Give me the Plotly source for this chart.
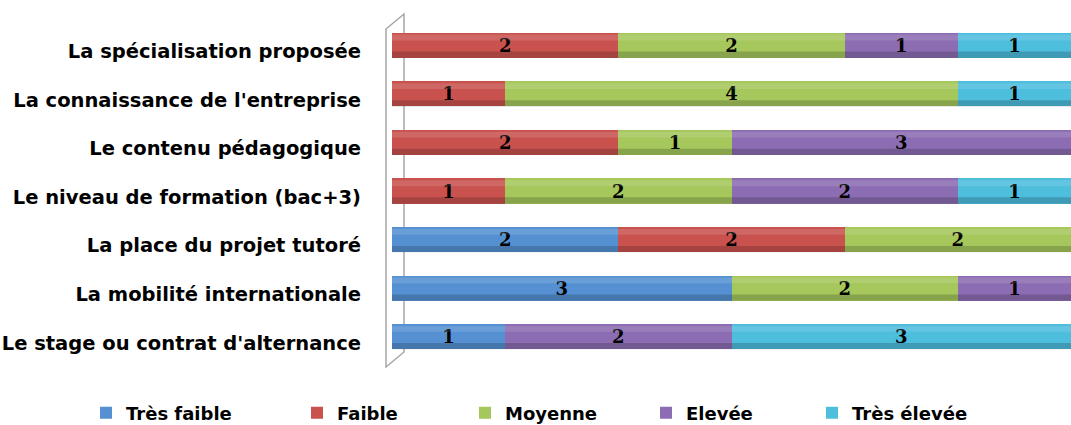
import plotly.graph_objects as go

categories = [
    "Le stage ou contrat d'alternance",
    "La mobilité internationale",
    "La place du projet tutoré",
    "Le niveau de formation (bac+3)",
    "Le contenu pédagogique",
    "La connaissance de l'entreprise",
    "La spécialisation proposée",
]
series_names = ["Très faible", "Faible", "Moyenne", "Elevée", "Très élevée"]
tres_faible = [1, 3, 2, 0, 0, 0, 0]
faible = [0, 0, 2, 1, 2, 1, 2]
moyenne = [0, 2, 2, 2, 1, 4, 2]
elevee = [2, 1, 0, 2, 3, 0, 1]
tres_elevee = [3, 0, 0, 1, 0, 1, 1]
series_values = [tres_faible, faible, moyenne, elevee, tres_elevee]
colors = ["#5591D2", "#C9524F", "#A5C75C", "#8C6DB3", "#4EBEDD"]

W, H = 1071, 425
L, R, T, B = 392, 0, 21, 64
pw, ph = W - L - R, H - T - B

def px_x(px):
    return (px - L) / pw

def px_y(py):
    return (H - B - py) / ph

legend_px = [86, 297, 465, 646, 812]
legend_names = ["legend", "legend2", "legend3", "legend4", "legend5"]

fig = go.Figure()
for i, (name, vals, col) in enumerate(zip(series_names, series_values, colors)):
    fig.add_trace(go.Bar(
        y=categories, x=vals, name=name, orientation="h",
        marker=dict(color=col, line=dict(width=0)),
        text=[str(v) if v else "" for v in vals],
        textposition="inside", insidetextanchor="middle",
        textangle=0, constraintext="none",
        textfont=dict(family="DejaVu Serif", size=18, color="black", weight="bold"),
        legend=legend_names[i], showlegend=True,
    ))

layout_legends = {}
for i, ln in enumerate(legend_names):
    layout_legends[ln] = dict(
        x=px_x(legend_px[i]), y=px_y(413), xanchor="left", yanchor="middle",
        orientation="h", bgcolor="rgba(0,0,0,0)", visible=True,
        font=dict(family="DejaVu Sans", size=18, color="black", weight="bold"),
    )

wall = (f"M {px_x(386)},{px_y(29)} L {px_x(404)},{px_y(14)} "
        f"L {px_x(404)},{px_y(352)} L {px_x(386)},{px_y(367)} Z")

shapes = [dict(type="path", xref="paper", yref="paper", path=wall,
               line=dict(color="#A6A6A6", width=1.5), fillcolor="white", layer="below")]
# cylinder shading over each bar
for i, cat in enumerate(categories):
    total = sum(v[i] for v in series_values)
    shapes.append(dict(type="rect", xref="x", yref="y", x0=0, x1=total,
                       y0=i - 0.26, y1=i - 0.13, fillcolor="rgba(0,0,0,0.18)",
                       line=dict(width=0), layer="above"))
    shapes.append(dict(type="rect", xref="x", yref="y", x0=0, x1=total,
                       y0=i + 0.10, y1=i + 0.22, fillcolor="rgba(255,255,255,0.12)",
                       line=dict(width=0), layer="above"))

fig.update_layout(
    width=W, height=H,
    margin=dict(l=L, r=R, t=T, b=B, autoexpand=False),
    barmode="stack", bargap=0.48,
    plot_bgcolor="white", paper_bgcolor="white",
    xaxis=dict(range=[0, 6], visible=False, showgrid=False, zeroline=False),
    yaxis=dict(categoryorder="array", categoryarray=categories,
               range=[-0.5, len(categories) - 0.5],
               showgrid=False, zeroline=False, showline=False, ticks="",
               ticklabelstandoff=30, ticklabelshift=6,
               tickfont=dict(family="DejaVu Sans", size=19.5, color="black", weight="bold")),
    shapes=shapes,
    **layout_legends,
)

fig.write_html("out.html", config={"displayModeBar": False},
               post_script="document.body.style.margin='0';document.body.style.padding='0';")
